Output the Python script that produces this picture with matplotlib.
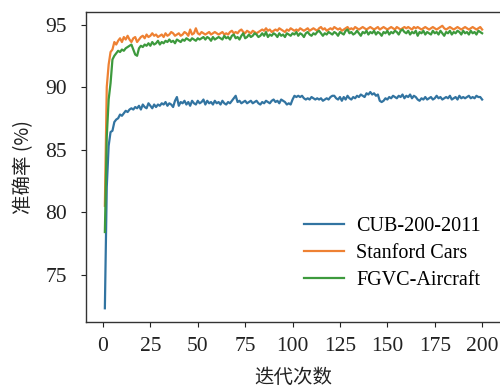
import matplotlib
matplotlib.use("Agg")
import matplotlib.pyplot as plt
import numpy as np

epochs = list(range(1, 201))

cub = [
    72.3, 82.0, 85.3, 86.4, 86.5, 87.2, 87.4, 87.5, 87.8, 87.7,
    87.9, 88.1, 88.0, 88.2, 88.3, 88.2, 88.4, 88.3, 88.5, 88.2,
    88.6, 88.4, 88.3, 88.7, 88.5, 88.3, 88.6, 88.4, 88.6, 88.5,
    88.7, 88.6, 88.8, 88.5, 88.7, 88.6, 88.4, 88.9, 89.2, 88.5,
    88.8, 88.7, 88.9, 88.6, 88.8, 88.5, 88.9, 88.7, 88.6, 88.9,
    88.7, 88.8, 89.0, 88.6, 88.9, 88.7, 88.8, 88.6, 88.9, 88.7,
    88.8, 88.6, 88.9, 88.7, 88.6, 88.8, 88.7, 88.9, 89.1, 89.3,
    88.8, 88.9, 88.7, 88.8, 88.9, 88.7, 88.8, 88.9, 88.7, 88.8,
    88.9, 88.7, 88.6, 88.8, 88.7, 88.9, 88.8, 88.7, 88.9, 89.0,
    88.8, 88.9, 88.7, 89.0, 88.9, 88.8, 88.6, 88.7, 88.6, 89.0,
    89.3, 89.2, 89.3, 89.2, 89.3, 89.1, 89.0, 89.1, 89.0, 89.2,
    89.1, 89.0, 89.1, 89.0, 89.1, 88.9, 89.0, 89.1, 89.0, 89.2,
    89.3, 89.3, 89.1, 89.0, 89.2, 88.9, 89.2, 89.0, 89.3, 89.1,
    89.0, 89.2, 89.1, 89.3, 89.2, 89.4, 89.3, 89.2, 89.5, 89.4,
    89.6, 89.4, 89.5, 89.3, 89.4, 88.9, 88.8, 88.9, 89.1, 89.0,
    89.2, 89.1, 89.3, 89.2, 89.1, 89.3, 89.2, 89.4, 89.1, 89.3,
    89.2, 89.4, 89.1, 89.3, 89.2, 89.0, 88.9, 89.1, 89.0, 89.2,
    89.0, 89.1, 89.2, 89.0, 89.1, 89.3, 89.1, 89.2, 89.0, 89.1,
    89.2, 89.1, 89.3, 89.0, 89.1, 89.2, 89.0, 89.3, 89.1, 89.2,
    89.1, 89.2, 89.3, 89.1, 89.2, 89.1, 89.3, 89.2, 89.2, 89.0,
]

cars = [
    80.5, 90.0, 91.8, 92.8, 93.0, 93.6, 93.4, 93.7, 93.9, 93.6,
    94.0, 93.8, 94.1, 93.8, 93.6, 93.9, 94.0, 93.6, 93.8, 94.0,
    94.1, 93.9, 94.2, 94.0, 94.1, 94.3, 94.1, 94.2, 94.0, 94.1,
    94.2, 94.0, 94.3, 94.1, 94.2, 94.4, 94.3, 94.1, 94.2, 94.3,
    94.1, 94.2, 94.4, 94.3, 94.1, 94.6, 94.2, 94.3, 94.7, 94.3,
    94.2, 94.4, 94.3, 94.2, 94.3, 94.4, 94.2, 94.3, 94.4, 94.3,
    94.2, 94.3, 94.4, 94.2, 94.3, 94.2, 94.4, 94.5, 94.3, 94.4,
    94.3, 94.5, 94.6, 94.4, 94.3, 94.5, 94.4, 94.3, 94.5, 94.4,
    94.3, 94.4, 94.5, 94.6, 94.5, 94.7, 94.5, 94.6, 94.4, 94.5,
    94.6, 94.5, 94.7, 94.6, 94.5, 94.4, 94.6, 94.5, 94.7, 94.6,
    94.5, 94.6, 94.5, 94.7, 94.6, 94.5, 94.6, 94.7, 94.5, 94.6,
    94.7, 94.6, 94.5, 94.7, 94.8, 94.6, 94.7, 94.5, 94.6, 94.7,
    94.6, 94.8, 94.7, 94.6, 94.7, 94.5, 94.6, 94.7, 94.8, 94.6,
    94.7, 94.6, 94.8, 94.7, 94.6, 94.7, 94.8, 94.7, 94.6, 94.7,
    94.8, 94.7, 94.6, 94.7, 94.8, 94.6, 94.7, 94.8, 94.7, 94.6,
    94.7, 94.8, 94.7, 94.6, 94.8, 94.7, 94.6, 94.7, 94.8, 94.7,
    94.8, 94.7, 94.6, 94.8, 94.7, 94.8, 94.7, 94.6, 94.7, 94.8,
    94.7, 94.6, 94.7, 94.8, 94.7, 94.6, 94.7, 94.8, 94.9, 94.7,
    94.6, 94.7, 94.8, 94.7, 94.6, 94.7, 94.8, 94.7, 94.6, 94.7,
    94.8, 94.7, 94.6, 94.7, 94.8, 94.7, 94.6, 94.7, 94.8, 94.6,
]

aircraft = [
    78.4, 86.0, 89.0, 90.3, 92.2, 92.5, 92.7, 92.9, 92.8, 93.0,
    92.9, 93.1, 93.2, 93.3, 93.4, 93.0, 92.6, 92.5, 93.1, 93.3,
    93.2, 93.4, 93.3, 93.5, 93.3, 93.6, 93.4, 93.5, 93.7, 93.4,
    93.6, 93.5, 93.7, 93.6, 93.8, 93.6, 93.7, 93.5, 93.8, 93.7,
    93.6, 93.8, 93.7, 93.9, 93.8, 93.7, 93.9, 93.8, 93.7, 93.9,
    93.8, 93.9, 94.0, 93.8, 94.0, 93.9, 93.7, 94.0, 93.8, 93.9,
    94.0, 93.9, 93.8, 94.1, 93.9, 94.0, 93.8, 94.1, 94.2, 93.9,
    94.0, 93.8, 94.1, 94.3, 93.9, 94.0, 94.2, 94.0, 94.1, 94.3,
    94.2, 94.0, 94.1, 94.3, 94.1, 94.4, 94.0, 94.2, 94.1, 94.3,
    94.2, 94.0, 94.3, 94.1, 94.2, 94.0, 94.3, 94.2, 94.1, 94.3,
    94.2, 94.4, 94.1, 94.3, 94.2, 94.0, 94.3, 94.4, 94.2, 94.1,
    94.3, 94.2, 94.4, 94.5, 94.3, 94.1, 94.3, 94.2, 94.4, 94.3,
    94.2, 94.4, 94.3, 94.1, 94.4, 94.3, 94.2, 94.5, 94.6, 94.3,
    94.4, 94.2, 94.3, 94.5, 94.3, 94.1, 94.4, 94.3, 94.5, 94.2,
    94.4, 94.3, 94.5, 94.2, 94.4, 94.3, 94.1, 94.4, 94.3, 94.5,
    94.2, 94.4, 94.3, 94.5, 94.4, 94.2, 94.5, 94.6, 94.4, 94.3,
    94.5, 94.2, 94.4, 94.3, 94.5, 94.1, 94.4, 94.3, 94.5, 94.2,
    94.4, 94.3, 94.2, 94.5, 94.3, 94.4, 94.2, 94.5, 94.3, 94.1,
    94.4, 94.3, 94.5, 94.2, 94.4, 94.3, 94.5, 94.4, 94.2, 94.5,
    94.3, 94.4, 94.2, 94.5, 94.3, 94.4, 94.2, 94.5, 94.4, 94.3,
]

series_names = ["CUB-200-2011", "Stanford Cars", "FGVC-Aircraft"]
colors = ["#3274a1", "#ee8133", "#3d9a3d"]
xticks = [0, 25, 50, 75, 100, 125, 150, 175, 200]
yticks = [75, 80, 85, 90, 95]

serif = ["Liberation Serif", "DejaVu Serif"]
cjk = ["Noto Sans CJK SC", "DejaVu Sans"]

fig = plt.figure(figsize=(5.0, 3.88), dpi=100)
ax = fig.add_axes([0.172, 0.170, 0.830, 0.799])

for name, vals, c in zip(series_names, [cub, cars, aircraft], colors):
    ax.plot(epochs, vals, color=c, lw=1.6, label=name)

ax.set_xlim(-8.95, 209.95)
ax.set_ylim(71.2, 96.0)
ax.set_xticks(xticks)
ax.set_yticks(yticks)
ax.tick_params(axis="both", direction="out", length=3.5, width=0.8,
               labelsize=15.5, colors="#222222")
ax.tick_params(axis="x", pad=7)
ax.tick_params(axis="y", pad=10)
for lab in ax.get_xticklabels() + ax.get_yticklabels():
    lab.set_family(serif)

for s in ["left", "bottom", "top"]:
    ax.spines[s].set_linewidth(1.0)
    ax.spines[s].set_color("#333333")
ax.spines["right"].set_visible(False)

ax.set_xlabel("迭代次数", family=cjk, fontsize=14, labelpad=8, color="#222222")
ax.set_ylabel("准确率 (%)", family=cjk, fontsize=14, labelpad=8, color="#222222")

leg = ax.legend(loc="lower right", frameon=False,
                prop={"family": serif, "size": 14.5},
                handlelength=2.0, handletextpad=0.6, labelspacing=0.38,
                bbox_to_anchor=(0.995, 0.045))

fig.savefig("out.png", dpi=100)
